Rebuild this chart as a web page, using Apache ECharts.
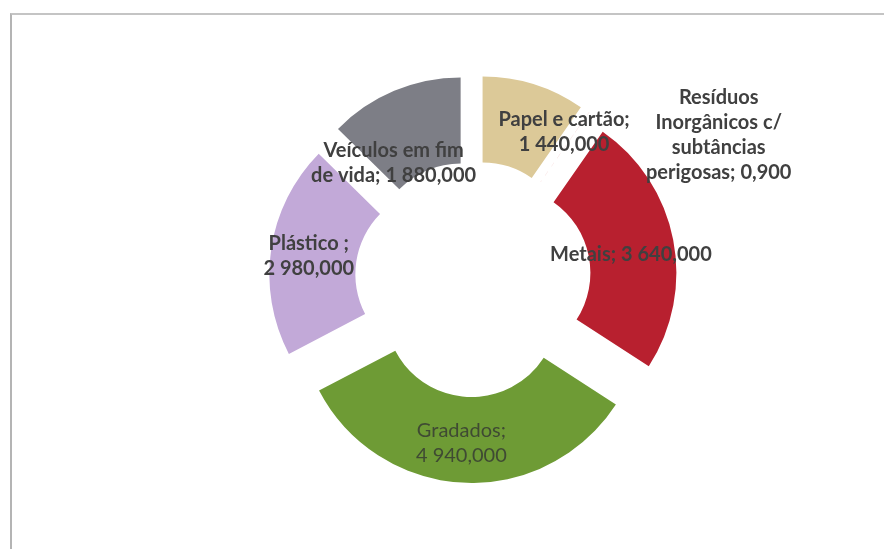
<!DOCTYPE html>
<html>
<head>
<meta charset="utf-8">
<script src="https://cdn.jsdelivr.net/npm/echarts@6/dist/echarts.min.js"></script>
<style>
  html, body { margin: 0; padding: 0; background: #fff; }
  #frame { position: absolute; left: 10px; top: 13px; width: 900px; height: 560px;
           border-left: 2px solid #b4b4b4; border-top: 2px solid #c4c4c4; }
  #chart { position: absolute; left: 0; top: 0; width: 884px; height: 549px; }
</style>
</head>
<body>
<div id="frame"></div>
<div id="chart"></div>
<script>
// categorias (com quebras de linha como no rótulo original)
var categories = [
    'Papel e cartão;',
    'Resíduos\nInorgânicos c/\nsubtâncias\nperigosas;',
    'Metais;',
    'Gradados;',
    'Plástico ;',
    'Veículos em fim\nde vida;'
];
var values = [1440, 0.9, 3640, 4940, 2980, 1880];
var colors = ['#dcc998', '#c00000', '#b8202f', '#6e9b35', '#c2a9d8', '#7d7e86'];
// separador entre nome e valor no rótulo
var joiners = ['\n', ' ', ' ', '\n', '\n', ' '];

function fmt(v) {
    var intPart = Math.floor(v);
    var dec = Math.round((v - intPart) * 1000);
    var s = String(intPart).replace(/\B(?=(\d{3})+(?!\d))/g, ' ');
    return s + ',' + String(dec).padStart(3, '0');
}

// deslocamentos dos rótulos (posição "best fit" do Excel)
var labelOffsets = [[42, 10], [152, -9], [-3, 7], [-4, 0], [-2, 1], [-16, 35]];

var data = values.map(function (v, i) {
    return {
        name: categories[i],
        value: v,
        selected: true,
        itemStyle: { color: colors[i] },
        label: {
            fontWeight: i === 3 ? 'normal' : 'bold',
            color: i === 3 ? '#3f4a33' : '#404040'
        }
    };
});

var myChart = echarts.init(document.getElementById('chart'));

var option = {
    animation: false,
    series: [
        {
            type: 'pie',
            center: [473, 279],
            radius: [86, 172],
            startAngle: 90,
            clockwise: true,
            selectedMode: 'multiple',
            selectedOffset: 32,
            avoidLabelOverlap: false,
            minShowLabelAngle: 0,
            label: {
                show: true,
                position: 'inside',
                fontFamily: 'Lato',
                fontSize: 20,
                lineHeight: 25,
                align: 'center',
                formatter: function (p) {
                    return p.name + joiners[p.dataIndex] + fmt(p.value);
                }
            },
            labelLayout: function (p) {
                return { dx: labelOffsets[p.dataIndex][0], dy: labelOffsets[p.dataIndex][1] };
            },
            labelLine: { show: false },
            emphasis: { disabled: true },
            select: { itemStyle: { borderWidth: 0 } },
            data: data
        }
    ]
};

myChart.setOption(option);
</script>
</body>
</html>
